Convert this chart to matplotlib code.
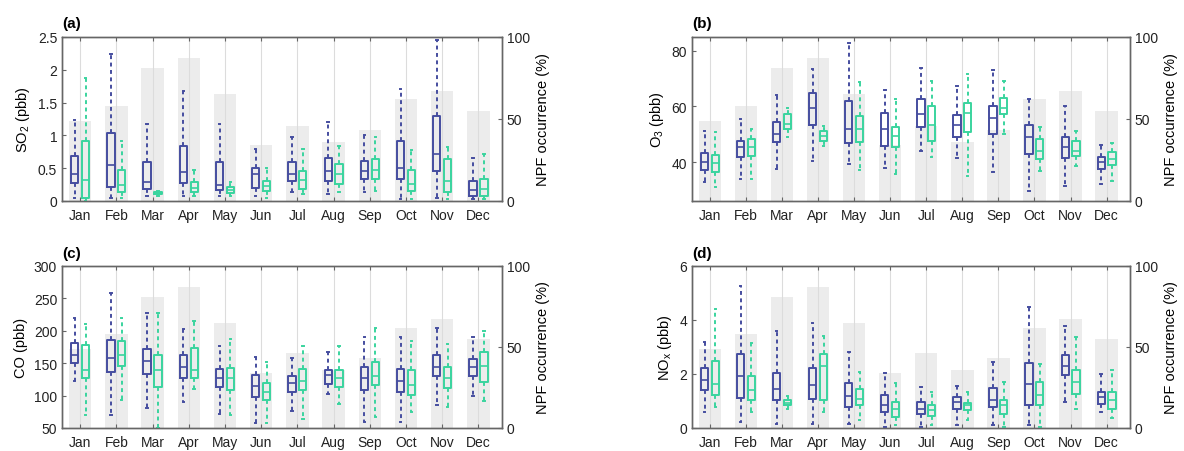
import matplotlib
matplotlib.use("Agg")
import matplotlib.pyplot as plt
import numpy as np

plt.rcParams['font.family'] = ['Liberation Sans', 'DejaVu Sans']
plt.rcParams['mathtext.default'] = 'regular'

months = ['Jan', 'Feb', 'Mar', 'Apr', 'May', 'Jun', 'Jul', 'Aug', 'Sep', 'Oct', 'Nov', 'Dec']
npf_occurrence = [49, 58, 81, 87, 65, 34, 46, 36, 43, 62, 67, 55]

# (whisker low, q1, median, q3, whisker high)
so2_blue = [(0.04, 0.27, 0.41, 0.69, 1.23), (0.04, 0.21, 0.55, 1.03, 2.24), (0.08, 0.19, 0.29, 0.60, 1.17),
            (0.08, 0.27, 0.44, 0.84, 1.68), (0.08, 0.17, 0.25, 0.59, 1.17), (0.08, 0.20, 0.41, 0.50, 0.80),
            (0.13, 0.31, 0.41, 0.60, 0.97), (0.11, 0.31, 0.46, 0.66, 1.21), (0.14, 0.33, 0.46, 0.61, 1.00),
            (0.03, 0.33, 0.51, 0.92, 1.71), (0.04, 0.46, 0.71, 1.29, 2.45), (0.03, 0.08, 0.17, 0.31, 0.65)]
so2_green = [(0.00, 0.04, 0.32, 0.92, 1.87), (0.04, 0.14, 0.25, 0.47, 0.91), (0.08, 0.10, 0.12, 0.14, 0.16),
             (0.08, 0.14, 0.20, 0.29, 0.48), (0.08, 0.12, 0.17, 0.22, 0.29), (0.05, 0.15, 0.23, 0.31, 0.50),
             (0.10, 0.18, 0.32, 0.46, 0.80), (0.13, 0.26, 0.41, 0.56, 0.84), (0.15, 0.34, 0.47, 0.64, 0.97),
             (0.03, 0.15, 0.26, 0.47, 0.77), (0.03, 0.14, 0.31, 0.64, 0.82), (0.03, 0.08, 0.19, 0.33, 0.71)]

o3_blue = [(33, 37.2, 40.1, 43.2, 51.3), (34, 41.7, 45.3, 47.7, 55.4), (37.5, 47.3, 50.1, 54.3, 64),
           (40.5, 53.3, 59.6, 64.7, 73.4), (39.3, 46.7, 51.9, 62, 83), (38, 45.9, 51.9, 57.8, 66),
           (44, 52.5, 57.2, 62.6, 74), (41.3, 49.2, 53.3, 56.9, 67.2), (36.3, 50.1, 56, 60.2, 73.2),
           (29.7, 42.9, 48.9, 53.3, 62.6), (31.5, 41.3, 45.3, 49.2, 60.2), (32.1, 37.5, 39.9, 41.7, 46.2)]
o3_green = [(31, 36.3, 39.6, 42.5, 51), (34, 42.3, 45.3, 48.3, 52), (48.9, 51.9, 53.7, 57.2, 59.6),
            (45.9, 47.7, 49.5, 51.3, 53), (37.2, 47.3, 51.9, 56.6, 68.9), (35.7, 45.3, 49.5, 52.8, 62.6),
            (41.7, 47.7, 53.3, 60.2, 69.2), (35.1, 50.7, 57.8, 61.2, 71.6), (50.1, 57.2, 59.3, 63.2, 69.2),
            (36.9, 41.1, 44.1, 48.3, 52.5), (38.7, 42.3, 44.1, 47.7, 51.3), (33.3, 38.9, 41.1, 43.5, 47)]

co_blue = [(122, 151, 163, 181, 219), (70, 136, 158, 186, 258), (81, 133, 154, 172, 228),
           (90, 127, 144, 162, 203), (72, 113, 127, 141, 177), (57, 98, 115, 132, 159),
           (76, 105, 120, 131, 158), (103, 118, 132, 139, 168), (59, 109, 127, 144, 190),
           (59, 105, 122, 141, 190), (85, 130, 144, 162, 204), (100, 131, 144, 157, 190)]
co_green = [(70, 127, 140, 178, 210), (93, 146, 163, 185, 219), (50, 113, 140, 163, 228),
            (110, 127, 140, 174, 215), (70, 109, 127, 142, 187), (57, 93, 106, 120, 152),
            (64, 108, 123, 141, 177), (87, 113, 127, 139, 177), (67, 116, 131, 152, 205),
            (75, 101, 117, 139, 185), (82, 112, 127, 144, 180), (91, 121, 146, 167, 200)]

nox_blue = [(0.59, 1.41, 1.76, 2.21, 3.2), (0.22, 1.11, 1.92, 2.74, 5.26), (0.16, 1.02, 1.43, 2.04, 3.6),
            (0.16, 1.08, 1.6, 2.21, 3.89), (0.16, 0.77, 1.2, 1.67, 2.83), (0.04, 0.59, 0.85, 1.22, 2.04),
            (0.04, 0.53, 0.71, 0.96, 1.51), (0.1, 0.71, 0.98, 1.14, 1.57), (0.12, 0.77, 1.02, 1.48, 2.46),
            (0.12, 0.84, 1.64, 2.41, 4.47), (0.98, 1.97, 2.31, 2.71, 3.79), (0.59, 0.9, 1.14, 1.33, 2.0)]
nox_green = [(0.77, 1.23, 1.64, 2.5, 4.4), (0.59, 1.02, 1.39, 1.92, 3.15), (0.69, 0.84, 0.93, 1.02, 1.2),
             (0.59, 1.02, 2.31, 2.74, 3.42), (0.28, 0.86, 1.08, 1.45, 2.07), (0.1, 0.41, 0.69, 0.96, 1.67),
             (0.1, 0.44, 0.65, 0.84, 1.33), (0.28, 0.65, 0.84, 0.93, 1.33), (0.04, 0.53, 0.84, 1.02, 1.7),
             (0.04, 0.86, 1.23, 1.72, 2.37), (0.69, 1.27, 1.7, 2.13, 3.36), (0.37, 0.71, 1.02, 1.35, 2.13)]

panel_labels = ['(a)', '(b)', '(c)', '(d)']
ylabels = ['SO$_2$ (pbb)', 'O$_3$ (pbb)', 'CO (pbb)', 'NO$_x$ (pbb)']
ylims = [(0, 2.5), (26, 85), (50, 300), (0, 6)]
yticks = [[0, 0.5, 1, 1.5, 2, 2.5], [40, 60, 80], [50, 100, 150, 200, 250, 300], [0, 2, 4, 6]]
yticklabels = [['0', '0.5', '1', '1.5', '2', '2.5'], ['40', '60', '80'],
               ['50', '100', '150', '200', '250', '300'], ['0', '2', '4', '6']]
blues = [so2_blue, o3_blue, co_blue, nox_blue]
greens = [so2_green, o3_green, co_green, nox_green]

BLUE = '#454d9f'
GREEN = '#3ad49e'
FRAME = '#666666'

fig = plt.figure(figsize=(11.84, 4.52), dpi=100)
W, H = 1184, 452
rects = [(62, 38, 440, 164), (692, 38, 438, 164), (62, 267, 440, 162), (692, 267, 438, 162)]

x = np.arange(1, 13)


def stats(rows):
    out = []
    for lo, q1, med, q3, hi in rows:
        out.append(dict(whislo=lo, q1=q1, med=med, q3=q3, whishi=hi, fliers=[]))
    return out


for i in range(4):
    l, t, w, h = rects[i]
    ax = fig.add_axes([l / W, 1 - (t + h) / H, w / W, h / H])
    ax2 = ax.twinx()
    ax.set_zorder(ax2.get_zorder() + 1)
    ax.patch.set_visible(False)

    ax2.bar(x, npf_occurrence, width=0.62, color='#ececec', edgecolor='none', zorder=1)
    ax2.set_ylim(0, 100)
    ax2.set_yticks([0, 50, 100])
    ax2.set_ylabel('NPF occurrence (%)', fontsize=10.5)

    for xv in x:
        ax.axvline(xv, color='#dcdcdc', lw=0.8, zorder=0)

    for data, col, off in ((blues[i], BLUE, -0.15), (greens[i], GREEN, 0.15)):
        ax.bxp(stats(data), positions=x + off, widths=0.2, showfliers=False,
               capwidths=0.04, manage_ticks=False,
               boxprops=dict(color=col, lw=1.4),
               medianprops=dict(color=col, lw=1.2),
               whiskerprops=dict(color=col, lw=1.4, linestyle=(0, (2.0, 1.8))),
               capprops=dict(color=col, lw=1.4))

    ax.set_xlim(0.5, 12.65)
    ax.set_ylim(*ylims[i])
    ax.set_yticks(yticks[i])
    ax.set_yticklabels(yticklabels[i])
    ax.set_xticks(x)
    ax.set_xticklabels(months)
    ax.set_ylabel(ylabels[i], fontsize=10.5)
    ax.text(0.0, 1.04, panel_labels[i], transform=ax.transAxes, fontsize=11,
            fontweight='bold', ha='left', va='bottom')

    for a in (ax, ax2):
        a.tick_params(direction='in', labelsize=10, length=3, color=FRAME, labelcolor='#222222')
        for s in a.spines.values():
            s.set_color(FRAME)
            s.set_linewidth(1.0)
    ax.tick_params(axis='x', top=True, pad=5)
    ax.tick_params(axis='y', right=False)

fig.savefig('out.png', dpi=100)
